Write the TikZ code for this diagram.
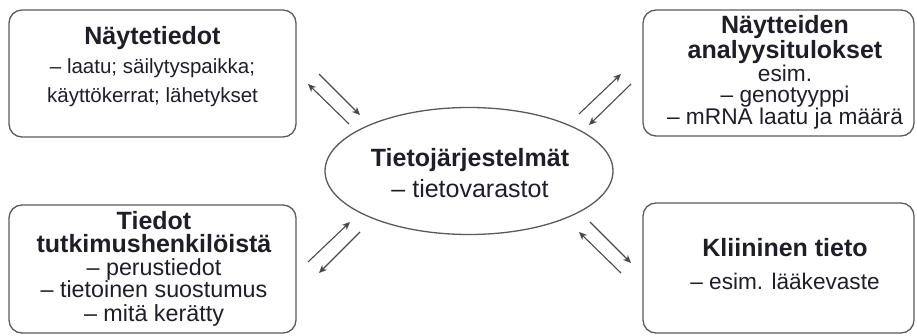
\documentclass[tikz,border=0pt]{standalone}
\usepackage{fontspec}
\setmainfont{Liberation Sans}
\usetikzlibrary{shapes.geometric,arrows.meta}
\definecolor{ink}{HTML}{1E1E28}
\definecolor{frame}{HTML}{5A5A5A}
\definecolor{arrowc}{HTML}{4A4A4A}
\newcommand{\ttl}{\fontsize{25}{25}\selectfont\bfseries}
\begin{document}
\begin{tikzpicture}[x=1pt,y=-1pt,
  boxnode/.style={draw=frame,line width=1.3pt,rounded corners=13pt,inner sep=0pt},
  ovalnode/.style={draw=frame,line width=1.3pt,ellipse,inner sep=0pt,minimum width=288pt,minimum height=127pt},
  txt/.style={anchor=base,inner sep=0pt,text=ink},
  conn/.style={draw=arrowc,line width=1.1pt,-{Stealth[length=8pt,width=7pt,inset=2.5pt]}}]
\useasboundingbox (0,0) rectangle (917,336);
% boxes
\node[boxnode,minimum width=287pt,minimum height=127pt] (tl) at (152.5,73.5) {};
\node[boxnode,minimum width=271pt,minimum height=126pt] (tr) at (778.5,73) {};
\node[boxnode,minimum width=287pt,minimum height=128pt] (bl) at (152.5,269) {};
\node[boxnode,minimum width=271pt,minimum height=130pt] (br) at (778.5,268) {};
\node[ovalnode] (c) at (469,171) {};
% top-left text
\node[txt,font=\ttl] (tl1) at (152.5,45) {Näytetiedot};
\node[txt,font=\fontsize{20.5}{20.5}\selectfont] (tl2) at (152.5,74) {– laatu; säilytyspaikka;};
\node[txt,font=\fontsize{20.5}{20.5}\selectfont] (tl3) at (152.5,103) {käyttökerrat; lähetykset};
% top-right text
\node[txt,font=\ttl] (tr1) at (785,34) {Näytteiden};
\node[txt,font=\ttl] (tr2) at (785,59) {analyysitulokset};
\node[txt,font=\fontsize{22.7}{22.7}\selectfont] (tr3) at (785,82) {esim.};
\node[txt,font=\fontsize{22.7}{22.7}\selectfont] (tr4) at (785,103) {– genotyyppi};
\node[txt,font=\fontsize{22.7}{22.7}\selectfont] (tr5) at (785,125) {– mRNA laatu ja määrä};
% bottom-left text
\node[txt,font=\ttl] (bl1) at (154,230) {Tiedot};
\node[txt,font=\ttl] (bl2) at (154,253) {tutkimushenkilöistä};
\node[txt,font=\fontsize{23.3}{23.3}\selectfont] (bl3) at (154,276) {– perustiedot};
\node[txt,font=\fontsize{23.3}{23.3}\selectfont] (bl4) at (154,298) {– tietoinen suostumus};
\node[txt,font=\fontsize{23.3}{23.3}\selectfont] (bl5) at (154,321) {– mitä kerätty};
% bottom-right text
\node[txt,font=\ttl] (br1) at (785,257) {Kliininen tieto};
\node[txt,font=\fontsize{22.6}{22.6}\selectfont] (br2) at (785,290) {– esim. lääkevaste};
% centre text
\node[txt,font=\ttl] (c1) at (470,167) {Tietojärjestelmät};
\node[txt,font=\fontsize{25}{25}\selectfont] (c2) at (470,198) {– tietovarastot};
% arrow end points
\coordinate (p1s) at (319,74);  \coordinate (p1e) at (360,115);
\coordinate (p2s) at (349,124); \coordinate (p2e) at (308,84);
\coordinate (p3s) at (579,114); \coordinate (p3e) at (621,74);
\coordinate (p4s) at (631,84);  \coordinate (p4e) at (589,125);
\coordinate (p5s) at (308,262); \coordinate (p5e) at (350,222);
\coordinate (p6s) at (360,232); \coordinate (p6e) at (319,273);
\coordinate (p7s) at (590,222); \coordinate (p7e) at (631,263);
\coordinate (p8s) at (621,273); \coordinate (p8e) at (579,232);
\draw[conn] (p1s) -- (p1e);
\draw[conn] (p2s) -- (p2e);
\draw[conn] (p3s) -- (p3e);
\draw[conn] (p4s) -- (p4e);
\draw[conn] (p5s) -- (p5e);
\draw[conn] (p6s) -- (p6e);
\draw[conn] (p7s) -- (p7e);
\draw[conn] (p8s) -- (p8e);
\end{tikzpicture}
\end{document}
